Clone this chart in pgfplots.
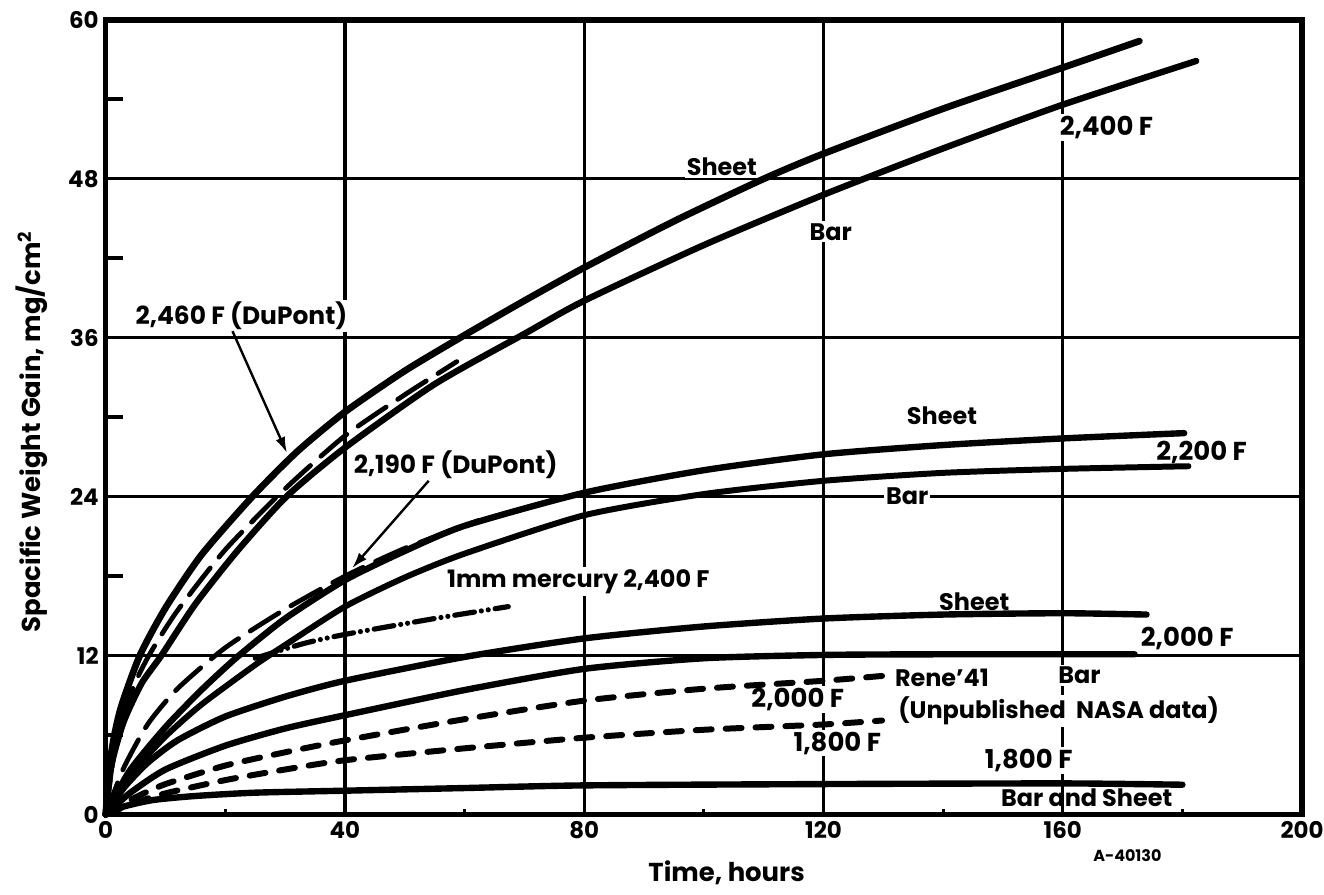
\documentclass[border=0pt]{standalone}
\usepackage{fontspec}
\setmainfont{Poppins}
\usepackage{pgfplots}
\pgfplotsset{compat=1.18}
\usetikzlibrary{arrows.meta}
\newcommand\lab{\fontsize{13}{13}\selectfont\bfseries}
\newcommand\slab{\fontsize{12}{12}\selectfont\bfseries}
\begin{document}
\begin{tikzpicture}
\begin{axis}[
  scale only axis, width=600pt, height=398.5pt,
  xmin=0, xmax=200, ymin=0, ymax=60,
  xtick={0,40,80,120,160,200}, ytick={0,12,24,36,48,60},
  grid=major, major grid style={line width=1.6pt, black},
  axis line style={line width=2.8pt, black},
  major tick length=0pt, tick pos=left, tick align=inside,
  tick label style={font=\fontsize{11.5}{11.5}\selectfont\bfseries},
  /pgf/number format/assume math mode=true,
  extra y ticks={6,18,30,42,54}, extra y tick labels={},
  extra y tick style={grid=none, major tick length=8.5pt, tick style={line width=2pt, black}},
  extra x ticks={20,60,100,140,180}, extra x tick labels={},
  extra x tick style={grid=none, major tick length=3pt, tick style={line width=1.5pt, black}},
  clip=false,
  every axis plot/.append style={black, line cap=round, line join=round},
]
% labels (drawn before the curves)
\node[fill=white, inner sep=1pt, font=\slab] at (axis cs:103,48.9) {Sheet};
\node[fill=white, inner sep=1pt, font=\slab] at (axis cs:121.2,44) {Bar};
\node[fill=white, inner sep=1pt, font=\lab] at (axis cs:167.3,51.9) {2,400 F};
\node[fill=white, inner sep=1pt, font=\fontsize{12.5}{12.5}\selectfont\bfseries] at (axis cs:22.7,37.65) {2,460 F (DuPont)};
\node[fill=white, inner sep=1pt, font=\fontsize{12.5}{12.5}\selectfont\bfseries] at (axis cs:58.5,26.4) {2,190 F (DuPont)};
\node[fill=white, inner sep=1pt, font=\slab] at (axis cs:139.8,30.1) {Sheet};
\node[fill=white, inner sep=1pt, font=\lab] at (axis cs:183.2,27.3) {2,200 F};
\node[fill=white, inner sep=1pt, font=\slab] at (axis cs:134,24.0) {Bar};
\node[fill=white, inner sep=1pt, font=\slab] at (axis cs:79,17.6) {1mm mercury 2,400 F};
\node[fill=white, inner sep=1pt, font=\slab] at (axis cs:145.2,16.1) {Sheet};
\node[fill=white, inner sep=1pt, font=\lab] at (axis cs:180.8,13.3) {2,000 F};
\node[fill=white, inner sep=1pt, font=\slab] at (axis cs:162.8,10.5) {Bar};
\node[fill=white, inner sep=1pt, font=\slab] at (axis cs:139.8,10.3) {Rene’41};
\node[fill=white, inner sep=1pt, font=\slab] at (axis cs:159.3,7.8) {(Unpublished\ \ NASA data)};
\node[fill=white, inner sep=1pt, font=\lab] at (axis cs:115.7,8.7) {2,000 F};
\node[fill=white, inner sep=1pt, font=\lab] at (axis cs:122.3,5.4) {1,800 F};
\node[fill=white, inner sep=1pt, font=\lab] at (axis cs:154.3,4.1) {1,800 F};
\node[inner sep=1pt, font=\slab] at (axis cs:164,1.3) {Bar and Sheet};
% leaders
\draw[line width=1.2pt, -{Latex[length=8pt,width=5pt]}] (axis cs:21.2,36.5) -- (axis cs:30.3,27.3);
\draw[line width=1.2pt, -{Latex[length=8pt,width=5pt]}] (axis cs:54,25.2) -- (axis cs:41.2,18.6);

% 2400 F Sheet
\addplot[line width=3.4pt, smooth, tension=0.4] coordinates {(0,0) (1,4.8) (2.5,8) (5.7,12) (10,15.6) (16,19.6) (24.5,24) (32,27.4) (40,30.4) (50,33.5) (60,36.2) (70,38.8) (80,41.3) (95,44.8) (110,48) (120,49.9) (140,53.3) (160,56.4) (172.8,58.4)};
% 2400 F Bar
\addplot[line width=3.2pt, smooth, tension=0.4] coordinates {(0,0) (1,3.8) (3,7) (6,9.9) (9.3,12) (15,15.9) (22,19.9) (30.2,24) (40,27.7) (55,32.5) (70,36.3) (80,38.8) (100,43) (120,46.8) (140,50.3) (160,53.6) (182.3,56.9)};
% 2460 F DuPont
\addplot[line width=2.4pt, smooth, tension=0.4, dash pattern=on 17pt off 7pt] coordinates {(0,0) (2,6.2) (5,10) (7.6,12.3) (12,15.4) (20,20) (30,24.6) (40,28.6) (50,31.7) (58.7,34.2)};
% 2190 F DuPont
\addplot[line width=2.4pt, smooth, tension=0.4, dash pattern=on 17pt off 7pt] coordinates {(0,0) (3,3.5) (7,6.8) (12,9.5) (20,12.6) (30,15.5) (40,18.0) (50,20.1) (62.3,22.2)};
% 2200 F Sheet
\addplot[line width=3.2pt, smooth, tension=0.4] coordinates {(0,0) (4,3.3) (10,6.6) (16,9.4) (22,11.9) (30,14.8) (40,17.7) (50,19.9) (60,21.8) (80,24.3) (100,26.0) (120,27.2) (140,27.9) (160,28.4) (180.3,28.8)};
% 2200 F Bar
\addplot[line width=3.0pt, smooth, tension=0.4] coordinates {(0,0) (5,3.4) (10,5.9) (16,8.3) (25,11.3) (30,12.8) (40,15.7) (50,17.9) (60,19.7) (80,22.6) (100,24.2) (120,25.2) (140,25.8) (160,26.1) (181,26.3)};
% 1 mm mercury 2400 F
\addplot[line width=2.6pt, smooth, tension=0.4, dash pattern=on 10pt off 3.5pt on 0pt off 3.5pt on 0pt off 3.5pt] coordinates {(25,11.8) (33,12.9) (40,13.6) (55,14.8) (67.3,15.7)};
% 2000 F Sheet
\addplot[line width=3.2pt, smooth, tension=0.4] coordinates {(0,0) (3,2.0) (7,3.9) (12,5.6) (20,7.4) (30,8.9) (40,10.1) (60,11.9) (80,13.3) (100,14.2) (120,14.8) (140,15.1) (160,15.2) (174,15.1)};
% 2000 F Bar
\addplot[line width=3.2pt, smooth, tension=0.4] coordinates {(0,0) (4,1.6) (10,3.4) (20,5.2) (30,6.5) (40,7.5) (60,9.4) (80,11.0) (100,11.8) (120,12.05) (140,12.1) (172,12.1)};
% Rene 41 2000 F
\addplot[line width=3.0pt, smooth, tension=0.4, dash pattern=on 8pt off 7pt] coordinates {(0,0) (5,1.3) (10,2.3) (20,3.7) (30,4.7) (40,5.6) (60,7.2) (80,8.6) (100,9.5) (120,10.1) (130.7,10.5)};
% Rene 41 1800 F
\addplot[line width=3.0pt, smooth, tension=0.4, dash pattern=on 8pt off 7pt] coordinates {(0,0) (5,0.9) (10,1.6) (20,2.6) (30,3.4) (40,4.1) (60,5.0) (80,5.8) (100,6.4) (120,6.8) (129.8,7.1)};
% 1800 F Bar and Sheet
\addplot[line width=3.2pt, smooth, tension=0.4] coordinates {(0,0) (3,0.6) (8,1.1) (15,1.4) (25,1.65) (40,1.8) (60,2.0) (80,2.2) (120,2.3) (160,2.35) (180,2.25)};

% axis labels
\node[font=\lab] at (axis cs:103.8,0) [yshift=-29pt] {Time, hours};
\node[font=\fontsize{8}{8}\selectfont\bfseries] at (axis cs:170.8,0) [yshift=-20.5pt] {A-40130};
\node[font=\lab, rotate=90] at ([xshift=-37pt]axis cs:0,28.9) {Spacific Weight Gain, mg/cm\textsuperscript{2}};
\end{axis}
\pgfresetboundingbox
\path ([shift={(-53pt,-40pt)}]current axis.south west) rectangle ([shift={(11pt,10pt)}]current axis.north east);
\end{tikzpicture}
\end{document}
